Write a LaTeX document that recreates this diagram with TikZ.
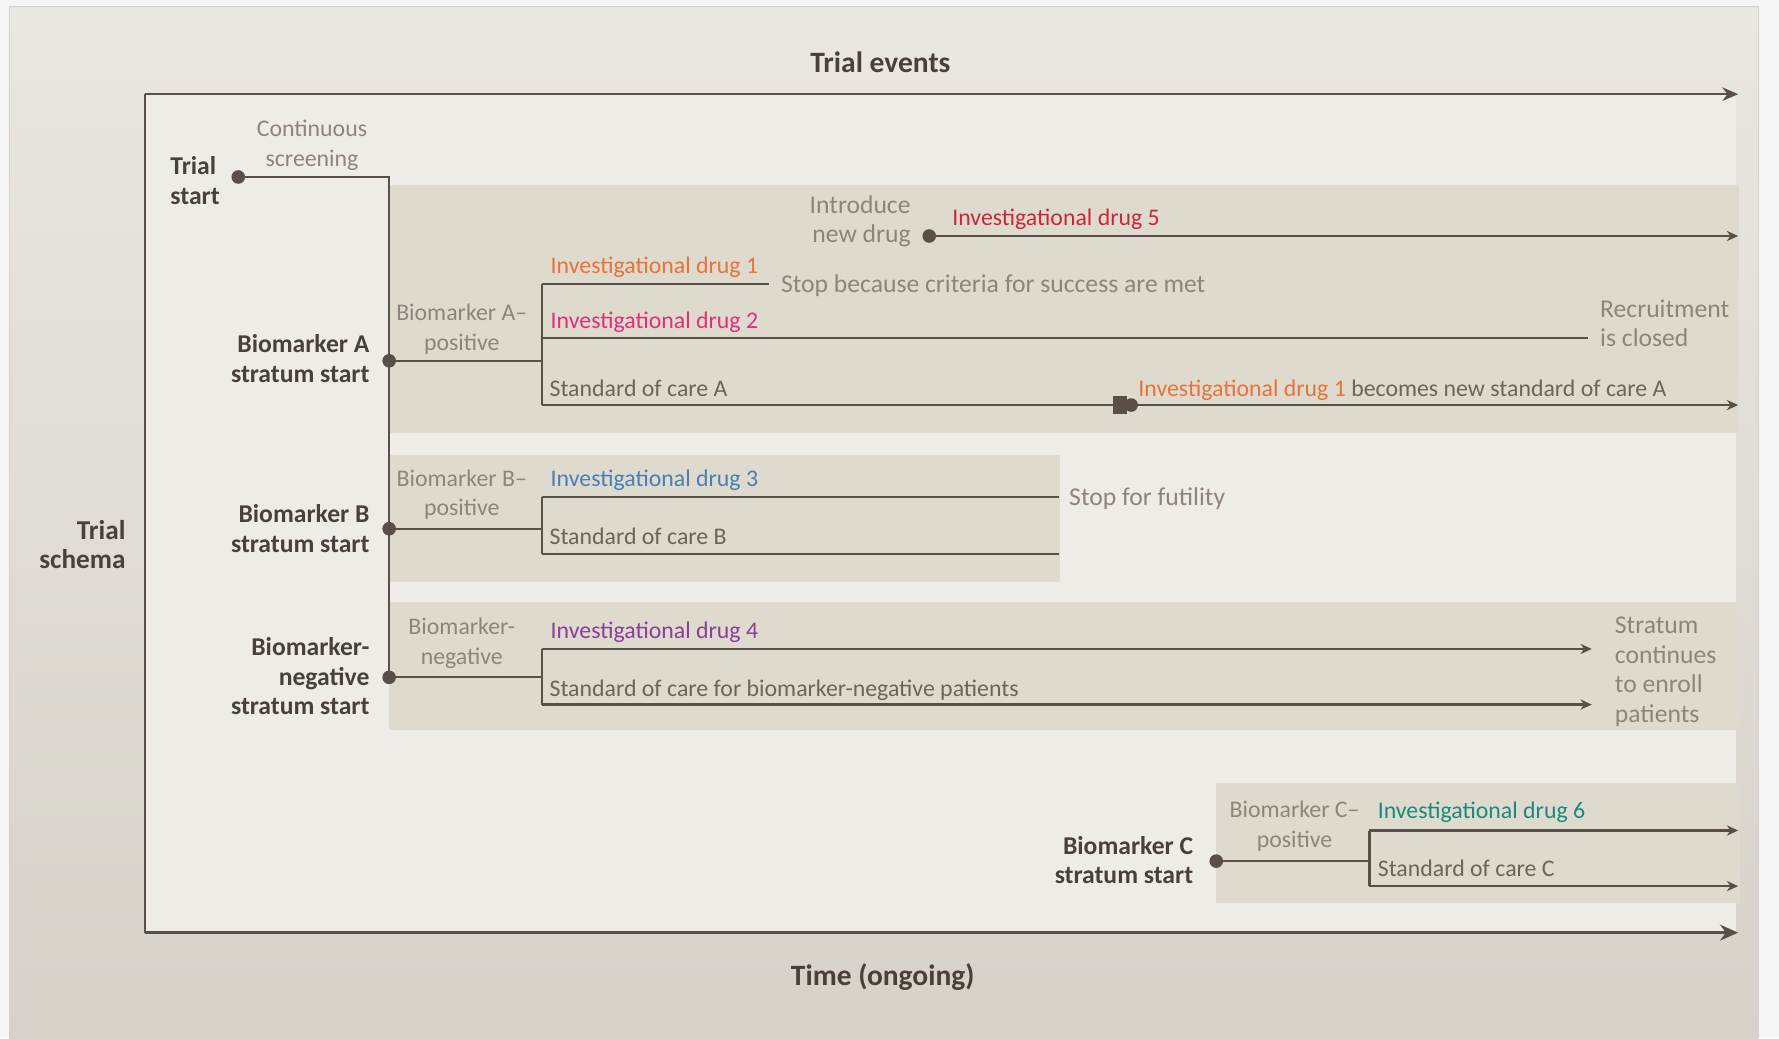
\documentclass[tikz,border=0pt]{standalone}
\usepackage{fontspec}
\setmainfont{Carlito}
\usetikzlibrary{arrows.meta}
\definecolor{ln}{HTML}{5A4F48}
\definecolor{txtgray}{HTML}{8E847B}
\definecolor{txtmid}{HTML}{6E635B}
\definecolor{txtdark}{HTML}{4A403A}
\definecolor{boxc}{HTML}{DFDACE}
\definecolor{plotbg}{HTML}{EEECE6}
\definecolor{paneltop}{HTML}{E9E7E1}
\definecolor{panelbot}{HTML}{D6D2CA}
\definecolor{cOrange}{HTML}{E8733A}
\definecolor{cPink}{HTML}{E0307A}
\definecolor{cCrimson}{HTML}{C8283C}
\definecolor{cBlue}{HTML}{4A7FB5}
\definecolor{cPurple}{HTML}{8A3F98}
\definecolor{cTeal}{HTML}{1A8A80}
\tikzset{
  lbl/.style={font=\fontsize{10.5}{13}\selectfont, inner sep=0pt, text=txtgray},
  notelbl/.style={font=\fontsize{11.3}{13}\selectfont, inner sep=0pt, text=txtgray},
  midlbl/.style={font=\fontsize{10.5}{13}\selectfont, inner sep=0pt, text=txtmid},
  boldlbl/.style={font=\bfseries\fontsize{11.3}{13}\selectfont, inner sep=0pt, text=txtdark},
  titlelbl/.style={font=\bfseries\fontsize{13}{15}\selectfont, inner sep=0pt, text=txtdark},
  dotnode/.style={circle, fill=ln, inner sep=0pt, minimum size=6pt},
  flow/.style={draw=ln, line width=1pt},
  arr/.style={flow, -{Stealth[length=5pt,width=4.5pt]}},
  axisline/.style={draw=ln, line width=1.1pt},
}
\begin{document}
\begin{tikzpicture}[x=0.5pt,y=-0.5pt]
\useasboundingbox (0,0) rectangle (1568,915);
% backgrounds
\fill[white!96!black] (0,0) rectangle (1568,915);
\shade[top color=paneltop, bottom color=panelbot] (8,6) rectangle (1550,915);
\draw[black!18, line width=0.5pt] (8,915) -- (8,6) -- (1550,6) -- (1550,915);
\fill[plotbg] (128,83) rectangle (1530,822);
% stratum boxes
\fill[boxc] (343,163) rectangle (1533,382);
\fill[boxc] (343,401) rectangle (934,513);
\fill[boxc] (343,531) rectangle (1533,643);
\fill[boxc] (1072,690) rectangle (1534,796);

% axes
\coordinate (corner) at (128,83);
\coordinate (topend) at (1532,83);
\coordinate (botstart) at (128,822);
\coordinate (botend) at (1532,822);
\draw[axisline, -{Stealth[length=7pt,width=6pt]}] (corner) -- (topend);
\draw[axisline] (corner) -- (botstart);
\draw[axisline, line width=1.6pt, -{Stealth[length=8pt,width=7pt]}] (botstart) -- (botend);
\node[titlelbl] (events) at (776,55) {Trial events};
\node[titlelbl] (time) at (778,861) {Time (ongoing)};
\node[boldlbl, font=\bfseries\fontsize{12}{13}\selectfont, align=right, anchor=east] (schema) at (111,480) {Trial\\schema};

% trial start and screening spine
\node[dotnode] (ts) at (210,156) {};
\coordinate (scr) at (343,156);
\node[dotnode] (sa) at (343,318) {};
\node[dotnode] (sb) at (343,466) {};
\node[dotnode] (sn) at (343,597) {};
\draw[flow] (ts.center) -- (scr) -- (sn.center);
\node[boldlbl, align=left, anchor=east] (tslbl) at (194,159) {Trial\\start};
\node[lbl, align=center] (scrlbl) at (275,128) {Continuous\\screening};

% stratum labels (left)
\node[boldlbl, align=right, anchor=east] (salbl) at (326,316) {Biomarker A\\stratum start};
\node[boldlbl, align=right, anchor=east] (sblbl) at (326,466) {Biomarker B\\stratum start};
\node[boldlbl, align=right, anchor=east] (snlbl) at (326,596) {Biomarker-\\negative\\stratum start};

% ---------- Biomarker A ----------
\coordinate (a0) at (478,318);
\coordinate (a1) at (478,250);
\coordinate (a2) at (478,298);
\coordinate (a3) at (478,357);
\coordinate (a1e) at (678,250);
\coordinate (a2e) at (1400,298);
\coordinate (sw) at (988,357);
\coordinate (a3e) at (1532,357);
\draw[flow] (sa.center) -- (a0);
\draw[flow] (a1) -- (a3);
\draw[flow] (a1) -- (a1e);
\draw[flow] (a2) -- (a2e);
\draw[flow] (a3) -- (sw);
\draw[arr] (sw) -- (a3e);
\fill[ln] (981,349) rectangle (993,365);
\fill[ln] (997,357) circle (6);
\node[lbl, align=center] (alab) at (407,290) {Biomarker A–\\positive};
\node[lbl, anchor=mid west, text=cOrange] (d1) at (485,236) {Investigational drug 1};
\node[notelbl, anchor=mid west] (stop1) at (688,253) {Stop because criteria for success are met};
\node[lbl, anchor=mid west, text=cPink] (d2) at (485,285) {Investigational drug 2};
\node[notelbl, anchor=west, align=left] (recr) at (1410,285) {Recruitment\\is closed};
\node[midlbl, anchor=mid west] (soca) at (484,345) {Standard of care A};
\node[midlbl, anchor=mid west] (newsoc) at (1003,345) {\textcolor{cOrange}{Investigational drug 1} becomes new standard of care A};

% drug 5
\node[dotnode] (d5) at (819,208) {};
\coordinate (d5e) at (1532,208);
\draw[arr] (d5.center) -- (d5e);
\node[notelbl, align=right, anchor=east] (intro) at (803,195) {Introduce\\new drug};
\node[lbl, anchor=mid west, text=cCrimson] (d5lbl) at (839,194) {Investigational drug 5};

% ---------- Biomarker B ----------
\coordinate (b0) at (478,466);
\coordinate (b1) at (478,438);
\coordinate (b2) at (478,488);
\coordinate (b1e) at (933,438);
\coordinate (b2e) at (933,488);
\draw[flow] (sb.center) -- (b0);
\draw[flow] (b1) -- (b2);
\draw[flow] (b1) -- (b1e);
\draw[flow] (b2) -- (b2e);
\node[lbl, align=center] (blab) at (407,436) {Biomarker B–\\positive};
\node[lbl, anchor=mid west, text=cBlue] (d3) at (485,424) {Investigational drug 3};
\node[midlbl, anchor=mid west] (socb) at (484,475) {Standard of care B};
\node[notelbl, anchor=mid west] (fut) at (942,441) {Stop for futility};

% ---------- Biomarker negative ----------
\coordinate (n0) at (478,597);
\coordinate (n1) at (478,572);
\coordinate (n2) at (478,621);
\coordinate (n1e) at (1403,572);
\coordinate (n2e) at (1403,621);
\draw[flow] (sn.center) -- (n0);
\draw[flow] (n1) -- (n2);
\draw[arr] (n1) -- (n1e);
\draw[arr] (n2) -- (n2e);
\node[lbl, align=center] (nlab) at (407,567) {Biomarker-\\negative};
\node[lbl, anchor=mid west, text=cPurple] (d4) at (485,558) {Investigational drug 4};
\node[midlbl, anchor=mid west] (socn) at (484,609) {Standard of care for biomarker-negative patients};
\node[notelbl, anchor=west, align=left] (cont) at (1423,592) {Stratum\\continues\\to enroll\\patients};

% ---------- Biomarker C ----------
\node[dotnode] (sc) at (1072,759) {};
\coordinate (c0) at (1207,759);
\coordinate (c1) at (1207,732);
\coordinate (c2) at (1207,781);
\coordinate (c1e) at (1532,732);
\coordinate (c2e) at (1532,781);
\draw[flow] (sc.center) -- (c0);
\draw[flow] (c1) -- (c2);
\draw[arr] (c1) -- (c1e);
\draw[arr] (c2) -- (c2e);
\node[lbl, align=center] (clab) at (1141,728) {Biomarker C–\\positive};
\node[lbl, anchor=mid west, text=cTeal] (d6) at (1214,717) {Investigational drug 6};
\node[midlbl, anchor=mid west] (socc) at (1214,768) {Standard of care C};
\node[boldlbl, align=right, anchor=east] (sclbl) at (1052,758) {Biomarker C\\stratum start};
\end{tikzpicture}
\end{document}
